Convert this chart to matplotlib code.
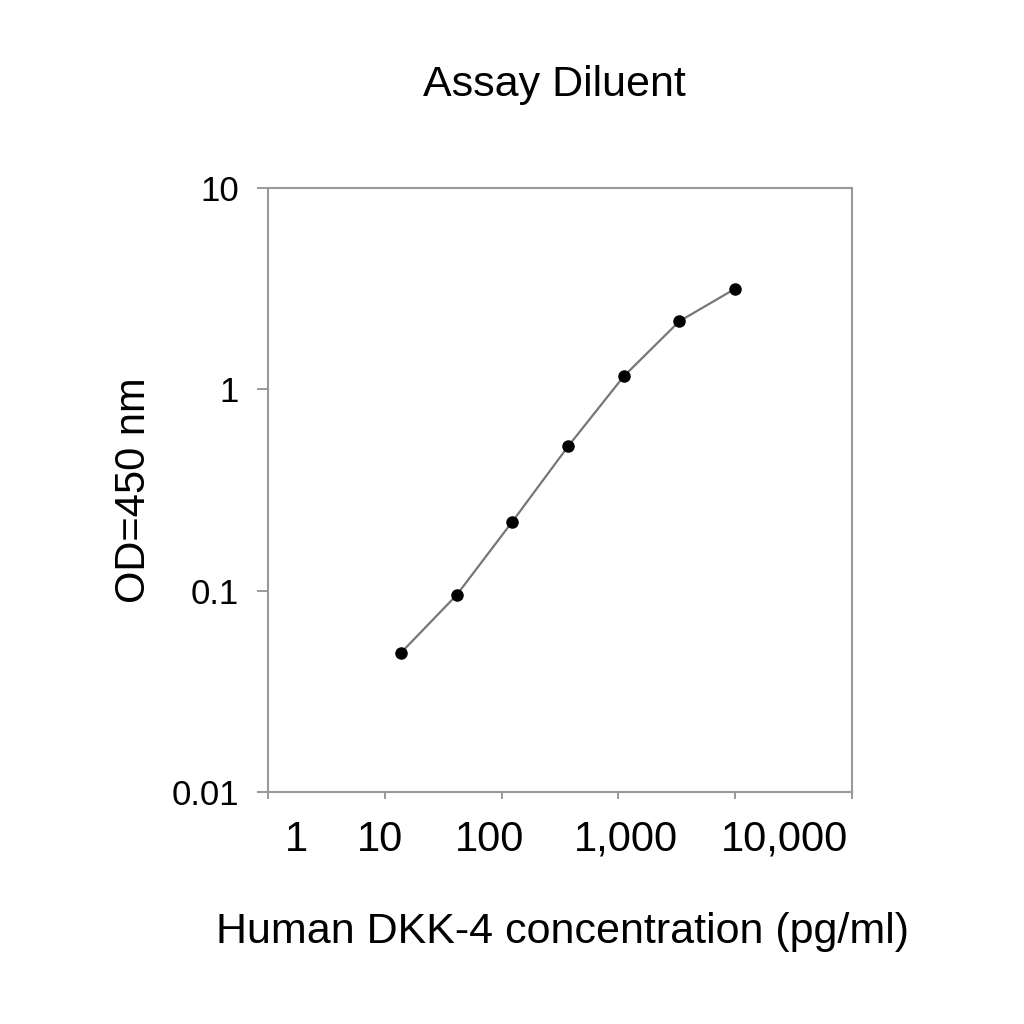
import matplotlib
matplotlib.use("Agg")
import matplotlib.pyplot as plt
import matplotlib.transforms as mtransforms

plt.rcParams['font.family'] = ['Liberation Sans', 'DejaVu Sans']

# Concentration de DKK-4 (pg/ml) et densite optique
conc = [13.7, 41.2, 123.5, 370.4, 1111.1, 3333.3, 10000]
od = [0.049, 0.095, 0.22, 0.52, 1.16, 2.18, 3.16]

x_ticks = [1, 10, 100, 1000, 10000]
x_labels = ['1', '10', '100', '1,000', '10,000']
y_ticks = [0.01, 0.1, 1, 10]
y_labels = ['0.01', '0.1', '1', '10']

fig = plt.figure(figsize=(10.24, 10.24), dpi=100)
ax = fig.add_axes([0.2617, 0.2266, 0.5703, 0.5898])

ax.plot(conc, od, color='#777777', linewidth=1.6, marker='o',
        markersize=8, markerfacecolor='black', markeredgecolor='black')

ax.set_xscale('log')
ax.set_yscale('log')
ax.set_xlim(1, 100000)
ax.set_ylim(0.01, 10)

ax.set_xticks(x_ticks + [100000])
ax.set_xticklabels(x_labels + [''], fontsize=30)
ax.set_yticks(y_ticks)
ax.set_yticklabels(y_labels, fontsize=25)
ax.minorticks_off()
ax.tick_params(axis='x', direction='out', length=5, width=1.2, color='#888888', pad=15)
ax.tick_params(axis='y', direction='out', length=8, width=1.2, color='#888888', pad=13)

# decalage des etiquettes de l'axe x comme dans l'original
shifts = [28, -5, -12, 8, 49]
for lab, dx in zip(ax.get_xticklabels(), shifts):
    lab.set_transform(lab.get_transform() +
                      mtransforms.ScaledTranslation(dx / 100, 0, fig.dpi_scale_trans))

for s in ax.spines.values():
    s.set_color('#999999')
    s.set_linewidth(1.5)

fig.text(554 / 1024, 1 - 85 / 1024, 'Assay Diluent', fontsize=31,
         ha='center', va='center')
fig.text(563 / 1024, 1 - 932 / 1024, 'Human DKK-4 concentration (pg/ml)',
         fontsize=31, ha='center', va='center')
fig.text(134 / 1024, 1 - 490 / 1024, 'OD=450 nm', fontsize=30,
         rotation=90, ha='center', va='center')

fig.savefig('out.png', dpi=100, facecolor='white')
